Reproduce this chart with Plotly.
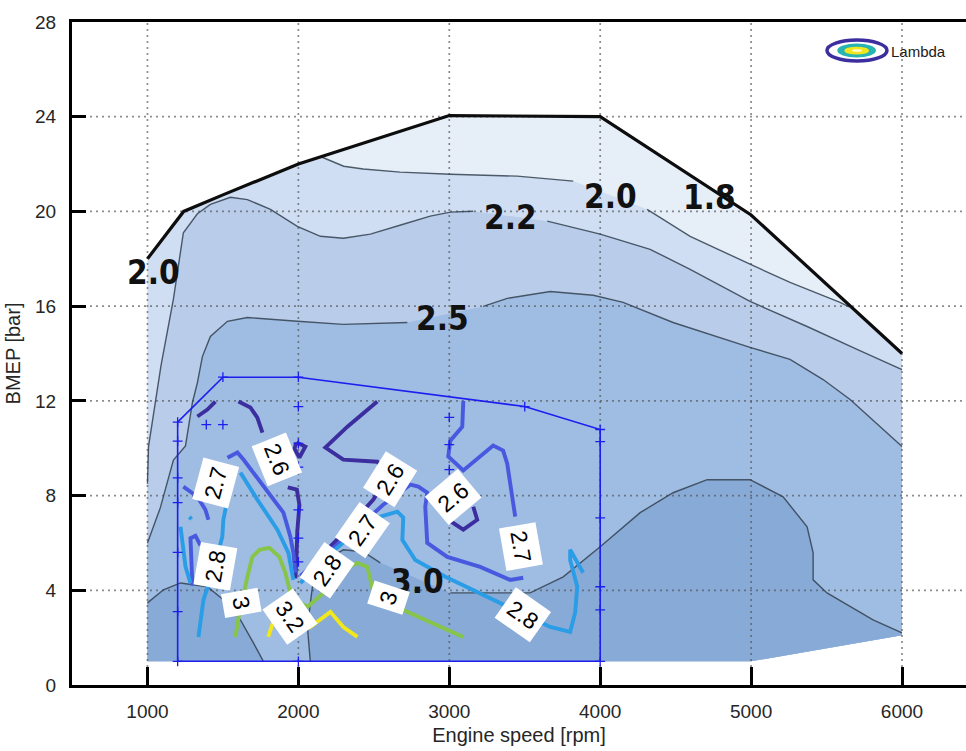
import plotly.graph_objects as go

# ---------------------------------------------------------------- axes
X_TICKS = [1000, 2000, 3000, 4000, 5000, 6000]
Y_TICKS = [0, 4, 8, 12, 16, 20, 24, 28]
X_RANGE = [500, 6424]
Y_RANGE = [0, 28]

# ---------------------------------------------------------------- engine map outline
# full-load curve (maximum BMEP over speed)
full_load_rpm = [1000, 1240, 1500, 2000, 3000, 4000, 5000, 6000]
full_load_bmep = [18.0, 20.0, 20.7, 22.0, 24.05, 24.0, 19.85, 14.0]
# lower edge of the mapped region, right to left
floor_rpm = [6000, 5000, 1000]
floor_bmep = [2.1, 1.0, 1.0]

# ---------------------------------------------------------------- simulated lambda map (iso-lines)
iso20_rpm = [2150, 2300, 2430, 2675, 3007, 3450, 3821, 4311, 4596, 4993, 5258, 5589, 5650]
iso20_bmep = [22.31, 21.91, 21.79, 21.66, 21.57, 21.49, 21.28, 20.09, 18.95, 17.77, 17.0, 16.16, 15.97]

iso22_rpm = [1000, 1007, 1090, 1172, 1238, 1331, 1417, 1550, 1662, 1815, 1993, 2146, 2298, 2477,
             2695, 2874, 3007, 3159, 3649, 4000, 4331, 4596, 4993, 5371, 5702, 6000]
iso22_bmep = [8.5, 10.07, 13.5, 16.3, 19.1, 19.9, 20.3, 20.6, 20.5, 20.09, 19.37, 18.95, 18.87, 19.04,
              19.46, 19.8, 19.97, 20.01, 19.59, 19.04, 18.4, 17.55, 16.2, 15.14, 14.17, 13.32]

iso25_rpm = [1000, 1086, 1172, 1252, 1298, 1331, 1364, 1417, 1530, 1662, 1993, 2298, 2722, 3225,
             3384, 3669, 3954, 4152, 4483, 4993, 5258, 5477, 5656, 6000]
iso25_bmep = [6.0, 7.5, 9.5, 10.1, 11.93, 12.77, 13.87, 14.72, 15.36, 15.52, 15.36, 15.23, 15.31, 15.99,
              16.33, 16.62, 16.46, 16.16, 15.31, 14.26, 13.75, 12.9, 12.06, 10.07]

iso30_rpm = [2079, 2060, 2093, 2212, 2298, 2430, 2543, 3007, 3536, 3755, 4000, 4265, 4483, 4709,
             4993, 5212, 5371, 5411, 5411, 5503, 5808, 6000]
iso30_bmep = [1.0, 2.45, 4.15, 5.41, 5.71, 5.63, 5.16, 3.89, 3.89, 4.57, 5.84, 7.28, 8.12, 8.67,
              8.67, 7.95, 6.68, 5.58, 4.44, 3.89, 2.75, 2.2]

iso30_low_rpm = [1000, 1106, 1219, 1300, 1397, 1503, 1616, 1702, 1768]
iso30_low_bmep = [3.47, 4.02, 4.31, 4.25, 4.15, 3.6, 2.75, 1.78, 1.0]

# level value and position of the map's own line labels
map_label_level = [2.0, 2.2, 2.0, 1.8, 2.5, 3.0]
map_label_rpm = [1040, 3404, 4066, 4722, 2954, 2788]
map_label_bmep = [17.4, 19.75, 20.64, 20.6, 15.48, 4.36]

# ---------------------------------------------------------------- measured lambda contours
lambda_26 = [
    [(1331, 11.34), (1397, 11.63), (1450, 11.97)],
    [(1603, 11.97), (1682, 11.72), (1728, 11.29), (1762, 10.66)],
    [(1987, 10.24), (2046, 10.07), (2007, 9.61), (1974, 9.98), (1987, 10.24)],
    [(1930, 8.35), (1990, 8.25), (2007, 7.6), (1993, 6.5), (1987, 5.3), (1980, 4.5)],
    [(2523, 11.97), (2325, 10.91), (2179, 10.03), (2298, 9.52), (2523, 9.43), (2600, 8.9),
     (2497, 7.83), (2380, 7.0), (2250, 6.1), (2110, 5.2), (2020, 4.6)],
    [(3007, 7.53), (2993, 6.98), (3093, 6.56), (3185, 6.98), (3159, 7.53)],
]
lambda_27 = [
    [(1530, 9.6), (1596, 9.82), (1636, 9.52), (1768, 8.38), (1901, 7.28), (1947, 6.26),
     (1967, 5.58), (1980, 4.74)],
    [(1238, 8.38), (1331, 7.95), (1384, 7.4), (1404, 6.98)],
    [(1351, 5.9), (1318, 6.3), (1285, 6.2), (1290, 5.0), (1298, 4.2)],
    [(2013, 4.6), (2200, 5.6), (2420, 6.8), (2560, 7.6), (2640, 8.0), (2742, 8.46), (2795, 8.38),
     (2854, 8.12), (2841, 7.53), (2854, 6.0), (2987, 5.41), (3205, 4.99), (3404, 4.44), (3490, 4.53)],
    [(3093, 12.0), (3086, 10.91), (3007, 10.32), (2993, 9.65), (3093, 9.06), (3291, 10.11),
     (3357, 9.9), (3384, 9.35), (3417, 7.95), (3437, 7.11)],
]
lambda_28 = [
    [(1616, 8.97), (1728, 7.83), (1861, 6.56), (1934, 5.58), (1967, 4.44)],
    [(1530, 7.83), (1503, 6.98), (1496, 6.26), (1440, 4.9), (1371, 3.6), (1338, 2.03)],
    [(1219, 6.68), (1238, 5.84), (1252, 5.0), (1285, 4.3)],
    [(1278, 7.1), (1292, 7.0)],
    [(2013, 4.3), (2150, 5.2), (2350, 6.3), (2543, 7.11), (2656, 7.32), (2695, 7.07), (2689, 6.13),
     (2775, 5.28), (2974, 4.57), (3152, 4.02), (3285, 3.6), (3490, 2.97), (3669, 2.45),
     (3801, 2.24), (3834, 3.05), (3848, 4.15), (3801, 5.28), (3801, 5.71), (3887, 4.74)],
]
lambda_30 = [
    [(1583, 2.03), (1609, 3.05), (1662, 4.56), (1695, 5.41), (1742, 5.71), (1808, 5.79),
     (1874, 5.41), (1914, 4.74), (1947, 3.89), (1980, 3.6), (2060, 3.3), (2166, 3.89),
     (2258, 4.74), (2391, 5.16), (2457, 4.99), (2497, 3.89), (2596, 3.6), (2695, 3.17), (3093, 2.03)],
]
lambda_32 = [
    [(1800, 2.03), (1830, 2.6), (1947, 2.88), (2079, 2.45), (2212, 3.09), (2298, 2.45), (2391, 2.03)],
]
lambda_contours = {2.6: lambda_26, 2.7: lambda_27, 2.8: lambda_28, 3.0: lambda_30, 3.2: lambda_32}

# inline labels of the measured contours: level, rpm, bmep
inline_level = [2.7, 2.6, 2.8, 3.0, 2.6, 2.7, 2.8, 3.2, 3.0, 2.6, 2.7, 2.8]
inline_rpm = [1450, 1861, 1450, 1623, 2609, 2424, 2192, 1947, 2596, 3026, 3477, 3490]
inline_bmep = [8.55, 9.52, 5.03, 3.47, 8.7, 6.56, 4.86, 2.88, 3.68, 7.95, 5.84, 2.97]

# measurement area and measured operating points
area_rpm = [1200, 1200, 1500, 2000, 3500, 4000, 4000, 1200]
area_bmep = [1.0, 11.1, 13.0, 13.0, 11.76, 10.79, 1.0, 1.0]
meas_rpm = [1200] * 7 + [1390, 1500, 1500] + [2000] * 9 + [3000] * 4 + [3500] + [4000] * 6
meas_bmep = [1.0, 3.1, 5.6, 7.7, 8.75, 10.3, 11.1,
             11.0, 11.0, 13.0,
             1.0, 3.1, 5.2, 6.2, 7.4, 9.2, 10.2, 11.76, 13.0,
             7.3, 9.1, 10.15, 11.3,
             11.76,
             1.0, 3.17, 4.15, 7.06, 10.28, 10.79]

# ---------------------------------------------------------------- styles
BAND_COLORS = ["#e6eef8", "#cfdef2", "#b9cdea", "#9fbce2", "#88aad6"]
LEVEL_COLORS = {2.6: "#3c2e9f", 2.7: "#4859e0", 2.8: "#2b9de6", 3.0: "#86c44a", 3.2: "#f2e61c"}
INLINE_ANGLE = [-75, 68, -80, 80, -58, -55, -55, 55, -72, -40, 80, 35]
TICK_FONT = dict(family="Liberation Sans, Arial, sans-serif", size=19, color="#262626")
TITLE_FONT = dict(family="Liberation Sans, Arial, sans-serif", size=20, color="#262626")
MAP_LABEL_FONT = dict(family="Liberation Sans Narrow, Arial Narrow, DejaVu Sans Condensed, sans-serif",
                      size=33, color="#111111")
ISO_LINE = dict(color="rgba(50,65,80,0.85)", width=1.4)
GRID_LINE = dict(color="rgba(80,80,80,0.65)", width=1.7, dash="2px,4px")

fig = go.Figure()


def add_fill(xs, ys, color):
    fig.add_trace(go.Scatter(x=xs, y=ys, mode="lines", fill="toself", fillcolor=color,
                             line=dict(width=0), hoverinfo="skip"))


def with_gaps(xs, ys, windows):
    """Break a polyline where a text label sits on it."""
    ox, oy, prev = [], [], None
    for x, y in zip(xs, ys):
        if any(lo <= x <= hi for lo, hi in windows):
            if ox and ox[-1] is not None:
                ox.append(None)
                oy.append(None)
            prev = x
            continue
        if prev is not None and ox and ox[-1] is not None:
            if any(min(prev, x) < lo and max(prev, x) > hi for lo, hi in windows):
                ox.append(None)
                oy.append(None)
        ox.append(x)
        oy.append(y)
        prev = x
    return ox, oy


# shaded lambda bands, outermost first
above20_left = [i for i, r in enumerate(full_load_rpm) if r < iso20_rpm[0]]
above20_right = [i for i, r in enumerate(full_load_rpm) if r > iso20_rpm[-1]]
add_fill(full_load_rpm + floor_rpm, full_load_bmep + floor_bmep, BAND_COLORS[0])
add_fill(iso20_rpm + [full_load_rpm[i] for i in above20_right] + floor_rpm
         + [full_load_rpm[i] for i in above20_left],
         iso20_bmep + [full_load_bmep[i] for i in above20_right] + floor_bmep
         + [full_load_bmep[i] for i in above20_left], BAND_COLORS[1])
add_fill(iso22_rpm + floor_rpm, iso22_bmep + floor_bmep, BAND_COLORS[2])
add_fill(iso25_rpm + floor_rpm, iso25_bmep + floor_bmep, BAND_COLORS[3])
add_fill(iso30_rpm + floor_rpm[:2], iso30_bmep + floor_bmep[:2], BAND_COLORS[4])
add_fill(iso30_low_rpm + floor_rpm[2:], iso30_low_bmep + floor_bmep[2:], BAND_COLORS[4])

# dotted grid on top of the shading
for xv in X_TICKS:
    fig.add_trace(go.Scatter(x=[xv, xv], y=Y_RANGE, mode="lines", line=GRID_LINE, hoverinfo="skip"))
for yv in Y_TICKS[1:-1]:
    fig.add_trace(go.Scatter(x=X_RANGE, y=[yv, yv], mode="lines", line=GRID_LINE, hoverinfo="skip"))

# iso-lambda lines of the map, interrupted under their labels
iso_lines = [(2.0, iso20_rpm, iso20_bmep), (2.2, iso22_rpm, iso22_bmep), (2.5, iso25_rpm, iso25_bmep),
             (3.0, iso30_rpm, iso30_bmep), (3.0, iso30_low_rpm, iso30_low_bmep)]
for level, xs, ys in iso_lines:
    wins = [(r - 150, r + 150) for lv, r in zip(map_label_level, map_label_rpm) if lv == level]
    gx, gy = with_gaps(xs, ys, wins)
    fig.add_trace(go.Scatter(x=gx, y=gy, mode="lines", line=ISO_LINE, hoverinfo="skip"))

# full-load curve
fig.add_trace(go.Scatter(x=full_load_rpm, y=full_load_bmep, mode="lines",
                         line=dict(color="#0d0d0d", width=3.2), hoverinfo="skip"))

# measured lambda contours
for level, segments in lambda_contours.items():
    for seg in segments:
        fig.add_trace(go.Scatter(x=[p[0] for p in seg], y=[p[1] for p in seg], mode="lines",
                                 line=dict(color=LEVEL_COLORS[level], width=3.9),
                                 name=f"{level:g}", hoverinfo="skip"))

# measurement area and points
fig.add_trace(go.Scatter(x=area_rpm, y=area_bmep, mode="lines",
                         line=dict(color="#1d1df0", width=1.6), hoverinfo="skip"))
fig.add_trace(go.Scatter(x=meas_rpm, y=meas_bmep, mode="markers",
                         marker=dict(symbol="cross-thin", size=7,
                                     line=dict(color="#1d1df0", width=1.3)),
                         hoverinfo="skip"))

annotations = []
for level, r, b in zip(map_label_level, map_label_rpm, map_label_bmep):
    annotations.append(dict(x=r, y=b, xref="x", yref="y", text=f"<b>{level:.1f}</b>",
                            showarrow=False, font=MAP_LABEL_FONT))
for level, r, b, ang in zip(inline_level, inline_rpm, inline_bmep, INLINE_ANGLE):
    annotations.append(dict(x=r, y=b, xref="x", yref="y", text=f"{level:g}", showarrow=False,
                            textangle=ang, bgcolor="white", borderpad=5,
                            font=dict(family="Liberation Sans, Arial, sans-serif", size=23,
                                      color="black")))
# legend entry
annotations.append(dict(x=0.9139, y=0.9548, xref="paper", yref="paper", text="Lambda",
                        showarrow=False, xanchor="left", yanchor="middle",
                        font=dict(family="Liberation Sans, Arial, sans-serif", size=15,
                                  color="#1a1a1a")))

shapes = [
    dict(type="circle", xref="paper", yref="paper", x0=0.8445, x1=0.9116, y0=0.9412, y1=0.9729,
         line=dict(color="#3c2e9f", width=3.5), fillcolor="white", layer="above"),
    dict(type="circle", xref="paper", yref="paper", x0=0.8560, x1=0.8993, y0=0.9465, y1=0.9675,
         line=dict(width=0), fillcolor="#27b4b2", layer="above"),
    dict(type="circle", xref="paper", yref="paper", x0=0.8640, x1=0.8915, y0=0.9508, y1=0.9628,
         line=dict(width=0), fillcolor="#f2e61c", layer="above"),
    dict(type="circle", xref="paper", yref="paper", x0=0.8725, x1=0.8837, y0=0.9550, y1=0.9590,
         line=dict(width=0), fillcolor="#fffbd6", layer="above"),
]

fig.update_layout(
    width=966, height=751,
    margin=dict(l=72, r=0, t=22, b=66),
    paper_bgcolor="white", plot_bgcolor="white",
    showlegend=False,
    annotations=annotations,
    shapes=shapes,
    xaxis=dict(range=X_RANGE, tickvals=X_TICKS, ticks="inside", ticklen=18, tickwidth=3,
               tickcolor="black", showline=True, linewidth=3, linecolor="black", mirror=True,
               showgrid=False, zeroline=False, tickfont=TICK_FONT, ticklabelstandoff=7,
               title=dict(text="Engine speed [rpm]", font=TITLE_FONT, standoff=8)),
    yaxis=dict(range=Y_RANGE, tickvals=Y_TICKS, ticks="inside", ticklen=14, tickwidth=3,
               tickcolor="black", showline=True, linewidth=3, linecolor="black",
               showgrid=False, zeroline=False, tickfont=TICK_FONT, ticklabelstandoff=9,
               title=dict(text="BMEP [bar]", font=TITLE_FONT, standoff=10)),
)

fig.write_html("out.html")
